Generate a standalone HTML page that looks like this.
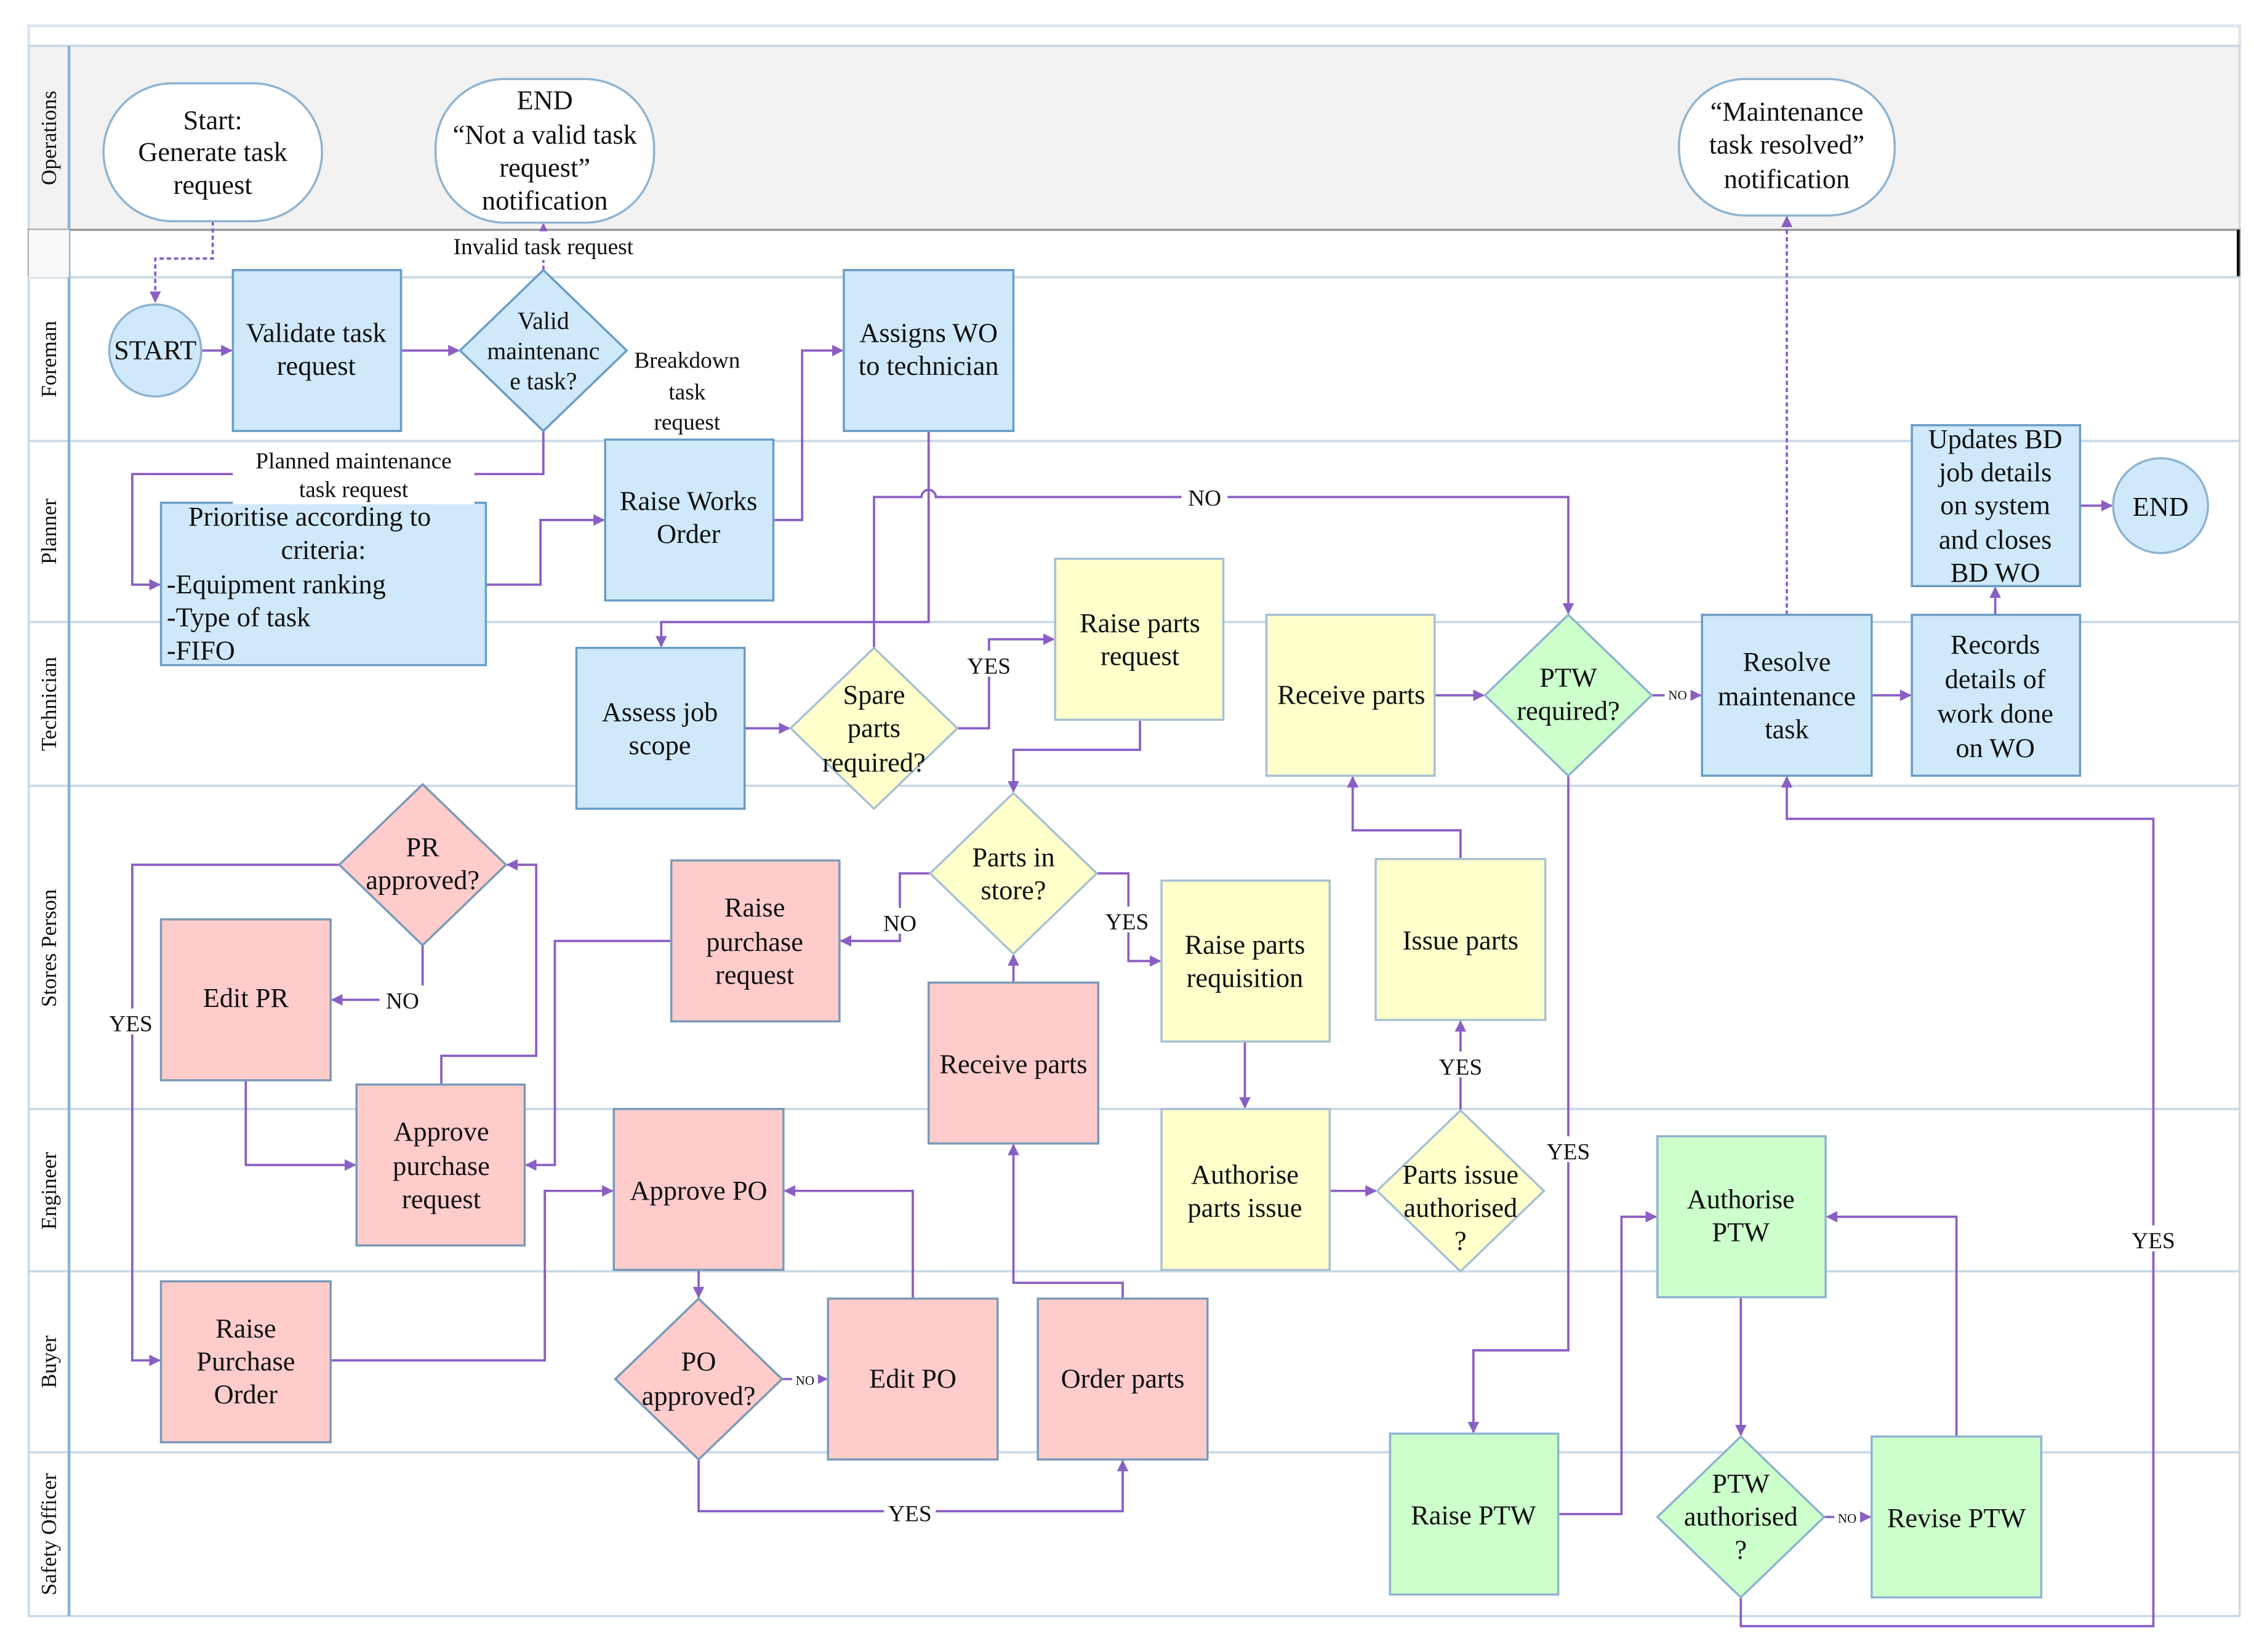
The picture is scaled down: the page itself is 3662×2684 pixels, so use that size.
<!DOCTYPE html>
<html><head><meta charset="utf-8"><style>
html,body{margin:0;padding:0;background:#fff;}
svg{display:block;}
text{font-family:"Liberation Serif",serif;fill:#111;}
</style></head><body>
<svg width="3662" height="2684" viewBox="0 0 1568 1150" preserveAspectRatio="none" xmlns="http://www.w3.org/2000/svg">
<defs>
<marker id="a" viewBox="0 0 10 10" refX="9" refY="5" markerWidth="5" markerHeight="5" orient="auto"><path d="M0,0 L10,5 L0,10 z" fill="#8a5fc4"/></marker>
</defs>
<!-- lanes -->
<rect x="20" y="18" width="1538" height="14" fill="#fff" stroke="#dbe6ef" stroke-width="2"/>
<rect x="20" y="32" width="1538" height="128" fill="#f2f2f2" stroke="#c9d9e6" stroke-width="1.5"/>
<rect x="20" y="160" width="1538" height="33" fill="#fff" stroke="#999" stroke-width="1.5"/>
<line x1="1557" y1="160" x2="1557" y2="193" stroke="#111" stroke-width="2"/>
<g fill="none" stroke="#c9d9e6" stroke-width="1.5">
<rect x="20" y="193" width="1538" height="114"/>
<rect x="20" y="307" width="1538" height="126"/>
<rect x="20" y="433" width="1538" height="114"/>
<rect x="20" y="547" width="1538" height="225"/>
<rect x="20" y="772" width="1538" height="113"/>
<rect x="20" y="885" width="1538" height="126"/>
<rect x="20" y="1011" width="1538" height="114"/>
</g>
<line x1="48" y1="32" x2="48" y2="1125" stroke="#8fb3d0" stroke-width="2"/>
<rect x="20" y="160" width="28" height="33" fill="#f7f9fb"/>
<g font-size="15">
<text transform="translate(39,96) rotate(-90)" text-anchor="middle">Operations</text>
<text transform="translate(39,250) rotate(-90)" text-anchor="middle">Foreman</text>
<text transform="translate(39,370) rotate(-90)" text-anchor="middle">Planner</text>
<text transform="translate(39,490) rotate(-90)" text-anchor="middle">Technician</text>
<text transform="translate(39,660) rotate(-90)" text-anchor="middle">Stores Person</text>
<text transform="translate(39,829) rotate(-90)" text-anchor="middle">Engineer</text>
<text transform="translate(39,948) rotate(-90)" text-anchor="middle">Buyer</text>
<text transform="translate(39,1068) rotate(-90)" text-anchor="middle">Safety Officer</text>
</g>

<!-- connectors -->
<g fill="none" stroke="#8a5fc4" stroke-width="1.6">
<polyline points="148,154 148,180 108,180 108,210" stroke-dasharray="3,2" marker-end="url(#a)"/>
<polyline points="378,188 378,156" stroke-dasharray="3,2" marker-end="url(#a)"/>
<polyline points="1243,428 1243,151" stroke-dasharray="3,2" marker-end="url(#a)"/>
<polyline points="140,244 161,244" marker-end="url(#a)"/>
<polyline points="279,244 319,244" marker-end="url(#a)"/>
<polyline points="378,300 378,330 92,330 92,407 111,407" marker-end="url(#a)"/>
<polyline points="338,407 376,407 376,362 420,362" marker-end="url(#a)"/>
<polyline points="538,362 558,362 558,244 586,244" marker-end="url(#a)"/>
<polyline points="646,300 646,433 460,433 460,450" marker-end="url(#a)"/>
<path d="M608,451 L608,346 L641,346 A5,5 0 0 1 651,346 L1091,346 L1091,427" marker-end="url(#a)"/>
<polyline points="518,507 549,507" marker-end="url(#a)"/>
<polyline points="666,507 688,507 688,445 733,445" marker-end="url(#a)"/>
<polyline points="793,501 793,522 705,522 705,551" marker-end="url(#a)"/>
<polyline points="647,608 626,608 626,655 585,655" marker-end="url(#a)"/>
<polyline points="763,608 785,608 785,669 807,669" marker-end="url(#a)"/>
<polyline points="705,684 705,665" marker-end="url(#a)"/>
<polyline points="866,725 866,771" marker-end="url(#a)"/>
<polyline points="925,829 957,829" marker-end="url(#a)"/>
<polyline points="1016,773 1016,711" marker-end="url(#a)"/>
<polyline points="1016,598 1016,578 941,578 941,541" marker-end="url(#a)"/>
<polyline points="998,484 1032,484" marker-end="url(#a)"/>
<polyline points="1149,484 1183,484" marker-end="url(#a)"/>
<polyline points="1091,540 1091,940 1025,940 1025,997" marker-end="url(#a)"/>
<polyline points="1084,1054 1128,1054 1128,847 1152,847" marker-end="url(#a)"/>
<polyline points="1211,903 1211,999" marker-end="url(#a)"/>
<polyline points="1269,1056 1301,1056" marker-end="url(#a)"/>
<polyline points="1361,1000 1361,847 1271,847" marker-end="url(#a)"/>
<polyline points="1211,1112 1211,1132 1498,1132 1498,570 1243,570 1243,541" marker-end="url(#a)"/>
<polyline points="1302,484 1329,484" marker-end="url(#a)"/>
<polyline points="1388,428 1388,409" marker-end="url(#a)"/>
<polyline points="1447,352 1469,352" marker-end="url(#a)"/>
<polyline points="236,602 92,602 92,947 111,947" marker-end="url(#a)"/>
<polyline points="294,658 294,696 231,696" marker-end="url(#a)"/>
<polyline points="171,752 171,811 247,811" marker-end="url(#a)"/>
<polyline points="307,755 307,735 373,735 373,602 353,602" marker-end="url(#a)"/>
<polyline points="467,655 386,655 386,811 366,811" marker-end="url(#a)"/>
<polyline points="230,947 379,947 379,829 426,829" marker-end="url(#a)"/>
<polyline points="486,884 486,903" marker-end="url(#a)"/>
<polyline points="544,960 575,960" marker-end="url(#a)"/>
<polyline points="635,904 635,829 546,829" marker-end="url(#a)"/>
<polyline points="486,1016 486,1052 781,1052 781,1017" marker-end="url(#a)"/>
<polyline points="781,904 781,893 705,893 705,797" marker-end="url(#a)"/>
</g>

<!-- stadiums -->
<g fill="#fff" stroke="#8fb3d0" stroke-width="1.5">
<rect x="72" y="58" width="152" height="96" rx="48"/>
<rect x="303" y="55" width="152" height="100" rx="48"/>
<rect x="1168" y="55" width="150" height="95" rx="46"/>
</g>
<!-- circles -->
<g fill="#cfe9fb" stroke="#8fb3d0" stroke-width="1.5">
<circle cx="108" cy="244" r="32"/>
<circle cx="1503" cy="352" r="33"/>
</g>
<!-- blue rects -->
<g fill="#cfe9fb" stroke="#6a9cc4" stroke-width="1.5">
<rect x="162" y="188" width="117" height="112"/>
<rect x="587" y="188" width="118" height="112"/>
<rect x="421" y="306" width="117" height="112"/>
<rect x="112" y="350" width="226" height="113"/>
<rect x="401" y="451" width="117" height="112"/>
<rect x="1184" y="428" width="118" height="112"/>
<rect x="1330" y="428" width="117" height="112"/>
<rect x="1330" y="296" width="117" height="112"/>
<polygon points="378,188 436,244 378,300 320,244"/>
</g>
<g fill="#ffffcc" stroke="#a8c0d4" stroke-width="1.5">
<rect x="734" y="389" width="117" height="112"/>
<rect x="881" y="428" width="117" height="112"/>
<rect x="808" y="613" width="117" height="112"/>
<rect x="957" y="598" width="118" height="112"/>
<rect x="808" y="772" width="117" height="112"/>
<polygon points="608,451 666,507 608,563 550,507"/>
<polygon points="705,552 763,608 705,664 647,608"/>
<polygon points="1016,773 1074,829 1016,885 958,829"/>
</g>
<g fill="#ffcccc" stroke="#7a9ab8" stroke-width="1.5">
<rect x="112" y="640" width="118" height="112"/>
<rect x="467" y="599" width="117" height="112"/>
<rect x="646" y="684" width="118" height="112"/>
<rect x="248" y="755" width="117" height="112"/>
<rect x="427" y="772" width="118" height="112"/>
<rect x="112" y="892" width="118" height="112"/>
<rect x="576" y="904" width="118" height="112"/>
<rect x="722" y="904" width="118" height="112"/>
<polygon points="294,546 352,602 294,658 236,602"/>
<polygon points="486,904 544,960 486,1016 428,960"/>
</g>
<g fill="#ccffcc" stroke="#8fb3d0" stroke-width="1.5">
<rect x="1153" y="791" width="117" height="112"/>
<rect x="967" y="998" width="117" height="112"/>
<rect x="1302" y="1000" width="118" height="112"/>
<polygon points="1091,428 1149,484 1091,540 1033,484"/>
<polygon points="1211,1000 1269,1056 1211,1112 1153,1056"/>
</g>

<!-- text -->
<g font-size="19" text-anchor="middle">
<text x="148" y="90">Start:</text><text x="148" y="112">Generate task</text><text x="148" y="135">request</text>
<text x="379" y="76">END</text><text x="379" y="100">“Not a valid task</text><text x="379" y="123">request”</text><text x="379" y="146">notification</text>
<text x="1243" y="84">“Maintenance</text><text x="1243" y="107">task resolved”</text><text x="1243" y="131">notification</text>
<text x="108" y="250">START</text>
<text x="1503" y="359">END</text>
<text x="220" y="238">Validate task</text><text x="220" y="261">request</text>
<text x="646" y="238">Assigns WO</text><text x="646" y="261">to technician</text>
<text x="479" y="355">Raise Works</text><text x="479" y="378">Order</text>
<text x="459" y="502">Assess job</text><text x="459" y="525">scope</text>
<text x="793" y="440">Raise parts</text><text x="793" y="463">request</text>
<text x="940" y="490">Receive parts</text>
<text x="1243" y="467">Resolve</text><text x="1243" y="491">maintenance</text><text x="1243" y="514">task</text>
<text x="1388" y="455">Records</text><text x="1388" y="479">details of</text><text x="1388" y="503">work done</text><text x="1388" y="527">on WO</text>
<text x="1388" y="312">Updates BD</text><text x="1388" y="335">job details</text><text x="1388" y="358">on system</text><text x="1388" y="382">and closes</text><text x="1388" y="405">BD WO</text>
<text x="171" y="701">Edit PR</text>
<text x="525" y="638">Raise</text><text x="525" y="662">purchase</text><text x="525" y="685">request</text>
<text x="705" y="747">Receive parts</text>
<text x="866" y="664">Raise parts</text><text x="866" y="687">requisition</text>
<text x="1016" y="661">Issue parts</text>
<text x="307" y="794">Approve</text><text x="307" y="818">purchase</text><text x="307" y="841">request</text>
<text x="486" y="835">Approve PO</text>
<text x="866" y="824">Authorise</text><text x="866" y="847">parts issue</text>
<text x="1211" y="841">Authorise</text><text x="1211" y="864">PTW</text>
<text x="171" y="931">Raise</text><text x="171" y="954">Purchase</text><text x="171" y="977">Order</text>
<text x="635" y="966">Edit PO</text>
<text x="781" y="966">Order parts</text>
<text x="1025" y="1061">Raise PTW</text>
<text x="1361" y="1063">Revise PTW</text>
<text x="294" y="596">PR</text><text x="294" y="619">approved?</text>
<text x="486" y="954">PO</text><text x="486" y="978">approved?</text>
<text x="705" y="603">Parts in</text><text x="705" y="626">store?</text>
<text x="608" y="490">Spare</text><text x="608" y="513">parts</text><text x="608" y="537">required?</text>
<text x="1091" y="478">PTW</text><text x="1091" y="501">required?</text>
<text x="1016" y="824">Parts issue</text><text x="1016" y="847">authorised</text><text x="1016" y="870">?</text>
<text x="1211" y="1039">PTW</text><text x="1211" y="1062">authorised</text><text x="1211" y="1085">?</text>
</g>
<g font-size="17" text-anchor="middle">
<text x="378" y="229">Valid</text><text x="378" y="250">maintenanc</text><text x="378" y="271">e task?</text>
</g>
<g font-size="19">
<text x="131" y="366">Prioritise according to</text>
<text x="225" y="389" text-anchor="middle">criteria:</text>
<text x="116" y="413">-Equipment ranking</text>
<text x="116" y="436">-Type of task</text>
<text x="116" y="459">-FIFO</text>
</g>
<!-- labels -->
<g font-size="16" text-anchor="middle">
<rect x="300" y="161" width="156" height="20" fill="#fff"/>
<text x="378" y="177">Invalid task request</text>
<text x="478" y="256">Breakdown</text><text x="478" y="278">task</text><text x="478" y="299">request</text>
<rect x="162" y="311" width="168" height="40" fill="#fff"/>
<text x="246" y="326">Planned maintenance</text><text x="246" y="346">task request</text>
<rect x="822" y="337" width="32" height="18" fill="#fff"/>
<text x="838" y="352">NO</text>
<rect x="672" y="453" width="32" height="18" fill="#fff"/>
<text x="688" y="469">YES</text>
<rect x="610" y="632" width="32" height="18" fill="#fff"/>
<text x="626" y="648">NO</text>
<rect x="768" y="631" width="32" height="18" fill="#fff"/>
<text x="784" y="647">YES</text>
<rect x="998" y="732" width="36" height="18" fill="#fff"/>
<text x="1016" y="748">YES</text>
<rect x="1073" y="791" width="36" height="18" fill="#fff"/>
<text x="1091" y="807">YES</text>
<rect x="264" y="686" width="32" height="18" fill="#fff"/>
<text x="280" y="702">NO</text>
<rect x="72" y="702" width="38" height="18" fill="#fff"/>
<text x="91" y="718">YES</text>
<rect x="615" y="1043" width="36" height="18" fill="#fff"/>
<text x="633" y="1059">YES</text>
<rect x="1480" y="853" width="36" height="18" fill="#fff"/>
<text x="1498" y="869" fill="#7a4fb8">YES</text>
</g>
<g font-size="9" text-anchor="middle">
<rect x="1158" y="478" width="18" height="11" fill="#fff"/><text x="1167" y="487">NO</text>
<rect x="551" y="955" width="18" height="11" fill="#fff"/><text x="560" y="964">NO</text>
<rect x="1276" y="1051" width="18" height="11" fill="#fff"/><text x="1285" y="1060">NO</text>
</g>
</svg>
</body></html>
